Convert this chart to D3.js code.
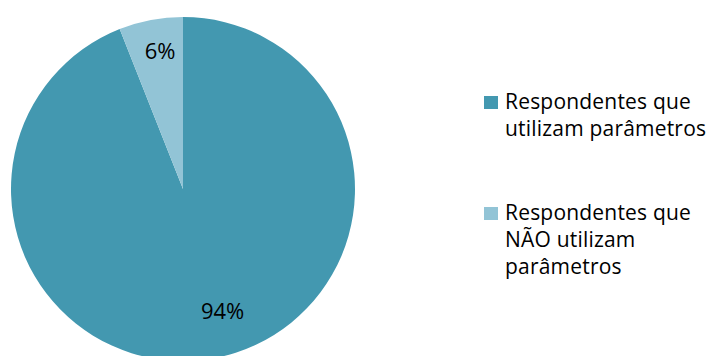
<!DOCTYPE html>
<html>
<head>
<meta charset="utf-8">
<script src="https://cdn.jsdelivr.net/npm/d3@7"></script>
<style>
  body { margin: 0; background: #fff; }
  text { font-family: "Open Sans", sans-serif; fill: #000; }
</style>
</head>
<body>
<div id="chart"></div>
<script>
// Dados
const categorias = ["Respondentes que utilizam parâmetros", "Respondentes que NÃO utilizam parâmetros"];
const valores = [94, 6];
const rotulos = ["94%", "6%"];
const linhasLegenda = [["Respondentes que", "utilizam parâmetros"], ["Respondentes que", "NÃO utilizam", "parâmetros"]];
const cores = ["#4398B0", "#92C4D6"];

const width = 725, height = 356;
const cx = 183, cy = 189, raio = 172;

const svg = d3.select("#chart")
    .append("svg")
        .attr("width", width)
        .attr("height", height);

// Fatias: a primeira começa no topo, sentido horário
const pie = d3.pie().sort(null).value(d => d);
const arcos = pie(valores);
const arc = d3.arc().innerRadius(0).outerRadius(raio);

const g = svg.append("g").attr("transform", `translate(${cx}, ${cy})`);

g.selectAll("path")
    .data(arcos)
    .enter()
    .append("path")
        .attr("d", arc)
        .attr("fill", (d, i) => cores[i]);

// Rótulos de percentagem (posição tipo "melhor ajuste" do Excel)
const posRotulo = [{ ang: 162, r: 0.745 }, { ang: 350.5, r: 0.81 }];
g.selectAll(".rotulo")
    .data(arcos)
    .enter()
    .append("text")
        .attr("class", "rotulo")
        .attr("transform", (d, i) => {
            const a = posRotulo[i].ang * Math.PI / 180;
            const r = posRotulo[i].r * raio;
            return `translate(${r * Math.sin(a)}, ${-r * Math.cos(a)})`;
        })
        .attr("text-anchor", "middle")
        .attr("dy", "0.35em")
        .style("font-size", "22px")
        .text((d, i) => rotulos[i]);

// Legenda
const legenda = svg.append("g").attr("transform", "translate(484, 96)");
const blocoY = [0, 111];

categorias.forEach((c, i) => {
    const item = legenda.append("g").attr("transform", `translate(0, ${blocoY[i]})`);
    item.append("rect")
        .attr("width", 14)
        .attr("height", 13)
        .attr("fill", cores[i]);
    linhasLegenda[i].forEach((l, j) => {
        item.append("text")
            .attr("x", 21)
            .attr("y", 13 + j * 27)
            .style("font-size", "21px")
            .style("letter-spacing", "0.2px")
            .text(l);
    });
});
</script>
</body>
</html>
